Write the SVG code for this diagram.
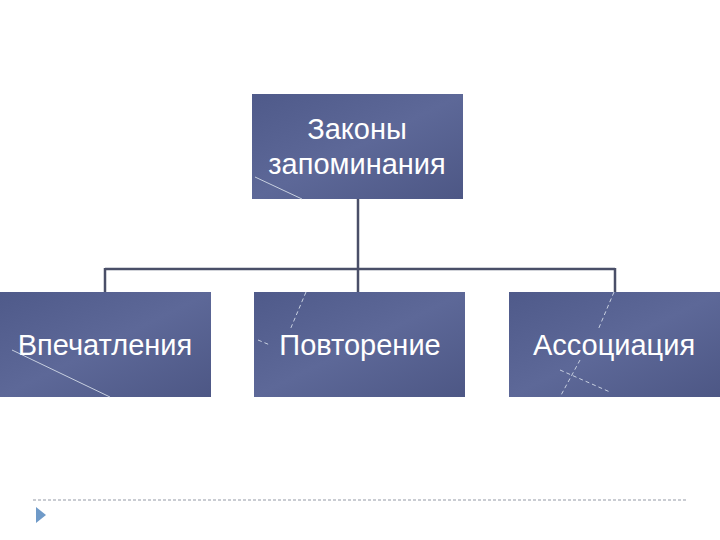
<svg xmlns="http://www.w3.org/2000/svg" width="720" height="540" viewBox="0 0 720 540">
<defs>
<linearGradient id="g" x1="0" y1="0" x2="1" y2="1">
<stop offset="0" stop-color="#4f5a8a"/><stop offset="0.5" stop-color="#5d6898"/><stop offset="1" stop-color="#4d5785"/>
</linearGradient>
<style>
.box{fill:url(#g)}
.t{font-family:"Liberation Sans",Arial,sans-serif;font-size:29px;fill:#fff;text-anchor:middle}
.c{stroke:#4a4f68;stroke-width:2.5;fill:none}
.d{stroke:#c8d0e0;stroke-width:1;fill:none}
</style>
</defs>
<rect width="720" height="540" fill="#fff"/>
<g id="connectors">
<path class="c" d="M358 199V269M105 269H615M105 268V292M358 268V292M615 268V292"/>
</g>
<g id="top"><rect class="box" x="252" y="94" width="211" height="105"/>
<path class="d" d="M255 177L302 199"/>
<text class="t" x="357" y="139">Законы</text><text class="t" x="357" y="174">запоминания</text></g>
<g id="n1"><rect class="box" x="0" y="292" width="211" height="105"/>
<path class="d" d="M12 350L110 397"/>
<text class="t" x="105" y="355">Впечатления</text></g>
<g id="n2"><rect class="box" x="254" y="292" width="211" height="105"/>
<path class="d" d="M306 292L290 330M258 340L270 345" stroke-dasharray="4 3"/>
<text class="t" x="360" y="355">Повторение</text></g>
<g id="n3"><rect class="box" x="509" y="292" width="211" height="105"/>
<path class="d" d="M614 292L598 330M560 370L610 392M580 360L560 397" stroke-dasharray="4 3"/>
<text class="t" x="614" y="355">Ассоциация</text></g>
<path d="M33 500H687" stroke="#b8bcc4" stroke-width="1.5" stroke-dasharray="3 2"/>
<path d="M36 507L46 515L36 523Z" fill="#6f9ac8"/>
</svg>
